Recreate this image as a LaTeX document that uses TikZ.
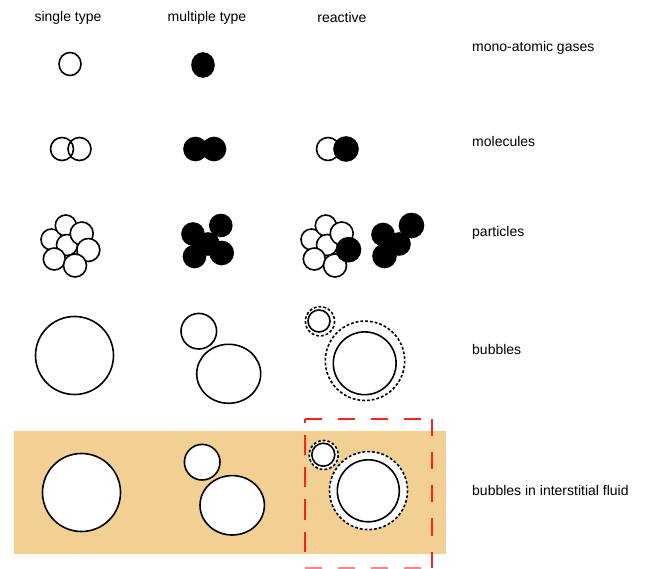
\documentclass[tikz,border=0pt]{standalone}
\usepackage{fontspec}
\setmainfont{Liberation Sans}
\begin{document}
\begin{tikzpicture}[x=1pt,y=-1pt,
  lbl/.style={inner sep=0pt, font=\fontsize{14}{16}\selectfont},
  rowlbl/.style={lbl, anchor=west},
  watom/.style={draw=black, line width=1.6pt, fill=white},
  batom/.style={draw=black, line width=1.6pt, fill=black},
  bline/.style={draw=black, line width=1.6pt},
  ring/.style={draw=black, line width=1.6pt, dash pattern=on 2.8pt off 2pt},
  fluid/.style={fill=fluidtan, draw=none},
  redbox/.style={draw=boxred, line width=2pt, dash pattern=on 17pt off 16pt}]
\definecolor{fluidtan}{RGB}{242,208,148}
\definecolor{boxred}{RGB}{255,32,32}
\useasboundingbox (0,0) rectangle (654,569);
\fill[white] (0,0) rectangle (654,569);
% headers
\node[lbl] (h1) at (68,18) {single type};
\node[lbl] (h2) at (207,18) {multiple type};
\node[lbl] (h3) at (342,18) {reactive};
% row labels
\node[rowlbl] (r1) at (472,48) {mono-atomic gases};
\node[rowlbl] (r2) at (472,141) {molecules};
\node[rowlbl] (r3) at (472,233) {particles};
\node[rowlbl] (r4) at (472,349) {bubbles};
\node[rowlbl] (r5) at (472,490) {bubbles in interstitial fluid};
% mono-atomic
\path[watom] (70,64) ellipse [x radius=11, y radius=11.5];
\path[batom] (203,65) ellipse [x radius=11, y radius=12];
% molecules
\path[fill=white] (62,149) circle [radius=11.5] (79.5,149) circle [radius=11.5];
\path[bline] (62,149) circle [radius=11.5] (79.5,149) circle [radius=11.5];
\path[batom] (195.5,149) circle [radius=11.5];
\path[batom] (214,149) circle [radius=11.5];
\path[watom] (328,149) circle [radius=11.5];
\path[batom] (346,149) circle [radius=12];
% particles single
\begin{scope}
\path[watom] (51.5,239.5) circle [radius=10.5];
\path[watom] (65.8,225.5) circle [radius=10.5];
\path[watom] (67,245) circle [radius=10.5];
\path[watom] (81.7,233.5) circle [radius=11.5];
\path[watom] (88.3,250) circle [radius=11.5];
\path[watom] (54.3,259) circle [radius=11];
\path[watom] (75,265.5) circle [radius=11.5];
\end{scope}
% particles multiple
\path[batom] (193,234) circle [radius=11];
\path[batom] (220.8,225.5) circle [radius=11];
\path[batom] (194.5,256.5) circle [radius=11];
\path[batom] (221.7,253) circle [radius=11.5];
\path[batom] (208,244) circle [radius=11];
% particles reactive
\begin{scope}[xshift=260pt]
\path[watom] (51.5,239.5) circle [radius=10.5];
\path[watom] (65.8,225.5) circle [radius=10.5];
\path[watom] (67,245) circle [radius=10.5];
\path[watom] (81.7,233.5) circle [radius=11.5];
\path[watom] (54.3,259) circle [radius=11];
\path[watom] (75,265.5) circle [radius=11.5];
\path[batom] (88.5,249.7) circle [radius=12];
\end{scope}
\path[batom] (383,234.5) circle [radius=11];
\path[batom] (411.5,225.5) circle [radius=12];
\path[batom] (384.5,256) circle [radius=11.5];
\path[batom] (399,244) circle [radius=11];
% bubbles
\path[watom] (74.5,355.5) circle [radius=39];
\path[watom] (198.8,331.2) circle [radius=17.8];
\path[watom] (228.7,373.8) ellipse [x radius=32, y radius=29.5];
\path[ring] (320,321.3) circle [radius=14.6];
\path[watom] (319,321) circle [radius=11];
\path[ring] (365,360.8) circle [radius=39.7];
\path[watom] (364.7,363.3) circle [radius=31.4];
% bubbles in interstitial fluid
\path[fluid] (14,431) rectangle (446,554);
\path[watom] (81.5,492.5) circle [radius=39];
\path[watom] (202.2,462.2) circle [radius=17.8];
\path[watom] (232.2,505.3) ellipse [x radius=32.2, y radius=29.7];
\path[ring, fill=white] (323.7,455) circle [radius=14.5];
\path[watom] (323.3,454.7) circle [radius=11.5];
\path[ring, fill=white] (368.5,490.6) circle [radius=39];
\path[watom] (368.3,490.8) circle [radius=31];
% red dashed box
\coordinate (bTL) at (305,419.5);
\coordinate (bTR) at (432,419.5);
\coordinate (bBR) at (432,567.5);
\coordinate (bBL) at (305,567.5);
\coordinate (bLE) at (305,554);
\draw[redbox] (bTL) -- (bTR);
\draw[redbox] (bTR) -- (bBR);
\draw[redbox, dash pattern=on 20pt off 12pt, dash phase=16pt] (bTL) -- (bLE);
\draw[redbox, draw=boxred!55] (bBL) -- (bBR);
\end{tikzpicture}
\end{document}
